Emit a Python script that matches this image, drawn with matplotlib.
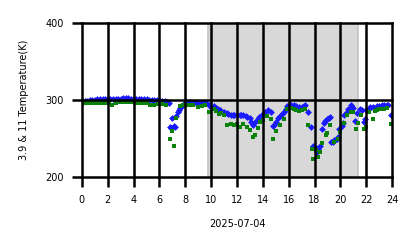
import numpy as np
import matplotlib
matplotlib.use("Agg")
import matplotlib.pyplot as plt

# hours of day and brightness temperatures (K)
t_blue = [0.0, 0.2, 0.4, 0.6, 0.8, 1.0, 1.2, 1.4, 1.6, 1.8, 2.0, 2.2, 2.4, 2.6, 2.8, 3.0, 3.2, 3.4, 3.6, 3.8,
          4.0, 4.2, 4.4, 4.6, 4.8, 5.0, 5.2, 5.4, 5.6, 5.8, 6.0, 6.2, 6.4, 6.6, 6.7,
          6.8, 6.9, 7.0, 7.1, 7.2, 7.3, 7.4, 7.5, 7.6, 7.7, 7.8, 8.0, 8.2, 8.4, 8.6, 8.8, 9.0, 9.2, 9.4, 9.6, 9.8,
          10.0, 10.2, 10.4, 10.5, 10.7, 10.8, 11.0, 11.2, 11.3, 11.5, 11.7, 11.8, 12.0, 12.2, 12.3, 12.5, 12.7,
          12.8, 13.0, 13.1, 13.2, 13.4, 13.6, 13.7, 13.9,
          14.0, 14.2, 14.4, 14.6, 14.8, 14.9, 15.0, 15.2, 15.3, 15.5, 15.6, 15.8, 15.9, 16.1, 16.2, 16.4, 16.6,
          16.8, 17.0, 17.2, 17.3, 17.5, 17.7, 17.9,
          18.0, 18.1, 18.2, 18.3, 18.4, 18.6, 18.7, 18.8, 19.0, 19.1, 19.2, 19.3, 19.4, 19.5, 19.7, 19.8, 19.9,
          20.1, 20.2, 20.3, 20.5, 20.6, 20.8, 20.9, 21.0,
          21.1, 21.3, 21.5, 21.7, 21.8, 21.9, 22.0, 22.2, 22.3, 22.5, 22.6, 22.8, 23.0, 23.2, 23.4, 23.6, 23.7, 23.9]
v_blue = [298, 299, 299, 300, 300, 300, 301, 301, 301, 301, 302, 302, 301, 302, 302, 302, 303, 303, 303, 302,
          302, 302, 301, 301, 301, 301, 300, 300, 300, 300, 300, 299, 299, 298, 296,
          265, 264, 277, 266, 265, 279, 284, 287, 290, 292, 294, 296, 296, 297, 296, 296, 296, 296, 296, 296, 293,
          291, 292, 290, 289, 287, 286, 284, 283, 282, 281, 281, 281, 280, 281, 281, 280, 279,
          278, 277, 272, 268, 272, 276, 278, 280,
          282, 285, 287, 285, 266, 268, 272, 277, 279, 282, 285, 289, 292, 293, 294, 293, 292,
          291, 291, 292, 293, 284, 265, 240,
          239, 238, 233, 237, 240, 262, 270, 273, 276, 277, 278, 245, 246, 248, 250, 252, 262,
          266, 270, 280, 285, 289, 293, 291, 290,
          273, 283, 289, 287, 272, 275, 287, 289, 291, 291, 290, 292, 292, 293, 294, 294, 294, 281]

t_green = [0.0, 0.3, 0.6, 0.9, 1.2, 1.5, 1.8, 2.1, 2.3, 2.6, 2.9, 3.2, 3.5, 3.8, 4.1, 4.4, 4.7, 5.0, 5.3,
           5.6, 5.9, 6.2, 6.5,
           6.8, 7.0, 7.1, 7.3, 7.6, 7.8, 8.0, 8.3, 8.6, 9.0, 9.3, 9.5, 9.8,
           10.2, 10.4, 10.6, 10.8, 11.0, 11.2, 11.5, 11.8, 12.0, 12.2, 12.5, 12.8, 13.0, 13.2, 13.4, 13.6, 13.8,
           14.0, 14.3, 14.6, 14.8, 15.0, 15.3, 15.6, 15.9, 16.2, 16.4, 16.6, 16.8, 17.0, 17.3, 17.5, 17.8, 17.9,
           18.1, 18.3, 18.4, 18.6, 18.9, 19.0, 19.2, 19.5, 19.8, 20.0, 20.3, 20.5, 20.8, 21.0,
           21.2, 21.4, 21.6, 21.8, 22.0, 22.2, 22.5, 22.7, 22.8, 23.0, 23.2, 23.4, 23.6, 23.9]
v_green = [295, 296, 296, 296, 296, 296, 296, 296, 294, 296, 297, 297, 297, 297, 296, 296, 296, 296, 293,
           294, 295, 295, 294,
           250, 260, 241, 277, 292, 293, 294, 293, 293, 291, 292, 293, 285,
           289, 286, 282, 283, 280, 267, 269, 268, 269, 265, 269, 265, 261, 252, 255, 264, 271,
           274, 279, 276, 250, 260, 268, 276, 288, 290, 288, 287, 286, 287, 289, 267, 237, 224,
           235, 226, 233, 244, 255, 257, 267, 246, 250, 258, 270, 280, 284, 285,
           263, 270, 280, 263, 265, 285, 276, 286, 287, 288, 288, 289, 290, 269]

night_start, night_end = 9.75, 21.4
x_ticks = list(range(0, 25, 2))
y_ticks = [200, 300, 400]

plt.rcParams['font.family'] = 'DejaVu Sans'
fig = plt.figure(figsize=(4.18, 2.48), dpi=100)
ax = fig.add_axes([0.196, 0.286, 0.742, 0.621])

ax.axvspan(night_start, night_end, facecolor='#d8d8d8', edgecolor='#c4c4c4', lw=1.2, zorder=0.5)
ax.scatter(t_blue, v_blue, marker='D', s=12, color='#1a1aff', linewidths=0, zorder=1.5)
ax.scatter(t_green, v_green, marker='s', s=10, color='#0a820a', linewidths=0, zorder=1.6)

ax.set_xlim(0, 24)
ax.set_ylim(200, 400)
ax.set_xticks(x_ticks)
ax.set_yticks(y_ticks)
ax.set_axisbelow(False)
ax.grid(True, color='black', lw=1.8)
for line in ax.get_xgridlines() + ax.get_ygridlines():
    line.set_clip_on(False)
for s in ax.spines.values():
    s.set_visible(False)
ax.tick_params(length=7, width=1.8, labelsize=7, pad=6)
ax.set_xlabel('2025-07-04', fontsize=7, labelpad=10)
ax.set_ylabel('3.9 & 11 Temperature(K)', fontsize=7, labelpad=12)

fig.savefig('out.png', dpi=100)
